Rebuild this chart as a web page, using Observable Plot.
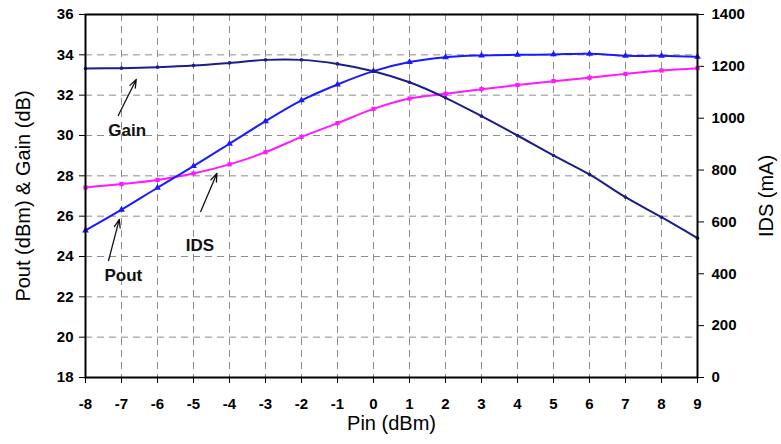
<!DOCTYPE html>
<html><head><meta charset="utf-8">
<script src="https://cdn.jsdelivr.net/npm/d3@7"></script>
<script src="https://cdn.jsdelivr.net/npm/@observablehq/plot@0.6"></script>
<style>
body{margin:0;background:#fff;}
#chart{width:781px;height:444px;}
</style></head><body><div id="chart"></div>
<script>
// Data
const pin  = [-8,-7,-6,-5,-4,-3,-2,-1,0,1,2,3,4,5,6,7,8,9];
const gain = [33.32,33.34,33.39,33.47,33.60,33.75,33.75,33.55,33.19,32.64,31.87,30.96,30.00,29.01,28.07,26.94,25.95,24.91];
const pout = [25.29,26.32,27.41,28.48,29.59,30.71,31.74,32.53,33.19,33.64,33.88,33.97,34.00,34.02,34.05,33.95,33.95,33.90];
const ids  = [733,746,762,787,822,869,928,981,1036,1076,1094,1112,1128,1143,1156,1171,1184,1193];
const leftTicks  = [18,20,22,24,26,28,30,32,34,36];
const rightTicks = [0,200,400,600,800,1000,1200,1400];
const xTitle = "Pin (dBm)";
const yLeftTitle = "Pout (dBm) & Gain (dB)";
const yRightTitle = "IDS (mA)";
const labels = ["Gain","Pout","IDS"];

// map right axis (mA) onto left scale (dB)
const L0 = 18, L1 = 36, R1 = 1400;
const toLeft = v => L0 + v * (L1 - L0) / R1;
const fromLeft = d => String(Math.round((d - L0) * R1 / (L1 - L0)));

const gainRows = pin.map((p,i)=>({x:p, y:gain[i]}));
const poutRows = pin.map((p,i)=>({x:p, y:pout[i]}));
const idsRows  = pin.map((p,i)=>({x:p, y:toLeft(ids[i])}));

const annText = [
  {t: labels[0], x:-6.84, y:30.25},
  {t: labels[1], x:-6.95, y:23.06},
  {t: labels[2], x:-4.82, y:24.55}
];
const annArrows = [
  {x1:-7.09, y1:30.99, x2:-6.59, y2:32.78},
  {x1:-7.36, y1:23.80, x2:-7.06, y2:25.84},
  {x1:-4.80, y1:26.23, x2:-4.35, y2:28.12}
];

const navy = "#1c1c8c", blue = "#1a1aff", magenta = "#ff19ff";
const grid = {stroke:"#8c8c8c", strokeOpacity:1, strokeDasharray:"7,5", strokeWidth:1};

const chart = Plot.plot({
  width: 781, height: 444,
  marginLeft: 85, marginRight: 84, marginTop: 14, marginBottom: 67,
  style: {fontFamily: "'Liberation Sans', Arial, sans-serif", color: "#000", background: "#fff"},
  x: {domain: [-8, 9]},
  y: {domain: [L0, L1]},
  marks: [
    Plot.gridX({ticks: pin, ...grid}),
    Plot.gridY({ticks: leftTicks, ...grid}),
    Plot.axisX({ticks: pin, tickFormat: d => String(d), tickSize: 6, tickPadding: 15, fontSize: 15, fontWeight: "bold", label: null}),
    Plot.axisY({anchor: "left", ticks: leftTicks, tickFormat: d => String(d), tickSize: 6, tickPadding: 6, fontSize: 15, fontWeight: "bold", label: null}),
    Plot.axisY({anchor: "right", ticks: rightTicks.map(toLeft), tickFormat: fromLeft, tickSize: 6, tickPadding: 8, fontSize: 15, fontWeight: "bold", label: null}),
    Plot.text([yLeftTitle], {text: d=>d, frameAnchor: "left", textAnchor: "middle", lineAnchor: "middle", rotate: -90, dx: -62, fontSize: 20}),
    Plot.text([yRightTitle], {text: d=>d, frameAnchor: "right", textAnchor: "middle", lineAnchor: "middle", rotate: -90, dx: 69, fontSize: 20}),
    Plot.text([xTitle], {text: d=>d, frameAnchor: "bottom", textAnchor: "middle", lineAnchor: "middle", dy: 46.5, fontSize: 20}),
    Plot.line(idsRows, {x:"x", y:"y", stroke: magenta, strokeWidth: 2, curve: "catmull-rom"}),
    Plot.dot(idsRows, {x:"x", y:"y", fill: magenta, symbol: "square", r: 2.4}),
    Plot.line(poutRows, {x:"x", y:"y", stroke: blue, strokeWidth: 2, curve: "catmull-rom"}),
    Plot.dot(poutRows, {x:"x", y:"y", fill: blue, symbol: "triangle", r: 2.5}),
    Plot.line(gainRows, {x:"x", y:"y", stroke: navy, strokeWidth: 2, curve: "catmull-rom"}),
    Plot.dot(gainRows, {x:"x", y:"y", fill: navy, r: 1.8}),
    Plot.frame({stroke: "#000", strokeWidth: 2}),
    Plot.arrow(annArrows, {x1:"x1", y1:"y1", x2:"x2", y2:"y2", stroke: "#111", strokeWidth: 1.3, headLength: 10, headAngle: 40}),
    Plot.text(annText, {x:"x", y:"y", text:"t", fontSize: 17, fontWeight: "bold", fill: "#111"})
  ]
});
document.getElementById("chart").appendChild(chart);
</script>
</body></html>
